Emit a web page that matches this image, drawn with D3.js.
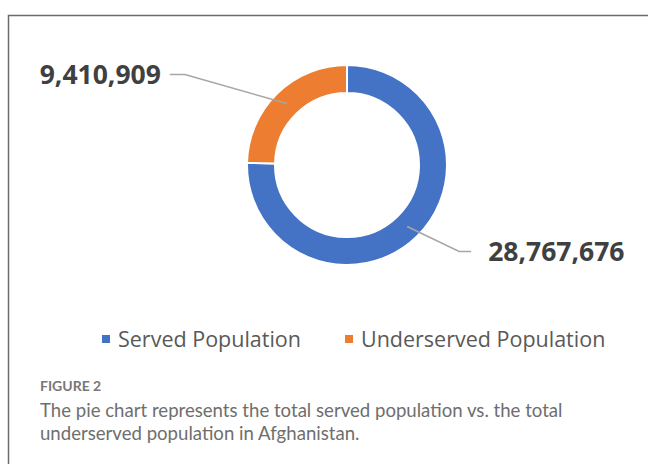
<!DOCTYPE html>
<html>
<head>
<meta charset="utf-8">
<script src="https://cdn.jsdelivr.net/npm/d3@7"></script>
<style>
  body { margin: 0; background: #fff; }
  svg { display: block; }
</style>
</head>
<body>
<script>
const w = 648;
const h = 464;

// data
const categories = ["Served Population", "Underserved Population"];
const values = [28767676, 9410909];
const colors = ["#4472c4", "#ed7d31"];

const cx = 347, cy = 165;
const outerR = 100, innerR = 72;

const svg = d3.select("body")
  .append("svg")
  .attr("width", w)
  .attr("height", h);

// frame (left and top rules)
svg.append("path")
  .attr("d", "M8.5," + h + "V15.5H" + w)
  .attr("fill", "none")
  .attr("stroke", "#6b6b6b")
  .attr("stroke-width", 1.5);

const pie = d3.pie().sort(null).value(d => d);
const arcs = pie(values);

const arc = d3.arc().innerRadius(innerR).outerRadius(outerR);
const midArc = d3.arc().innerRadius(86).outerRadius(86);

const g = svg.append("g").attr("transform", "translate(" + cx + "," + cy + ")");

g.selectAll("path.slice")
  .data(arcs)
  .enter()
  .append("path")
  .attr("class", "slice")
  .attr("d", arc)
  .attr("fill", (d, i) => colors[i])
  .attr("stroke", "#fff")
  .attr("stroke-width", 2);

// leader lines + labels
const fmt = d3.format(",");
arcs.forEach((d, i) => {
  const c = midArc.centroid(d);
  const right = c[0] > 0;
  const elbow = right ? [c[0] + 52, c[1] + 25] : [c[0] - 102, c[1] - 29];
  const end = right ? [elbow[0] + 12, elbow[1]] : [elbow[0] - 15, elbow[1]];
  g.append("polyline")
    .attr("points", [c, elbow, end].map(p => p.join(",")).join(" "))
    .attr("fill", "none")
    .attr("stroke", "#a6a6a6")
    .attr("stroke-width", 1.5);
  g.append("text")
    .attr("x", right ? end[0] + 17 : end[0] - 9)
    .attr("y", end[1])
    .attr("dy", "0.35em")
    .attr("text-anchor", right ? "start" : "end")
    .style("font-family", "'Open Sans', sans-serif")
    .style("font-weight", 700)
    .style("font-size", "26.5px")
    .style("fill", "#404040")
    .text(fmt(d.data));
});

// legend
const legendX = [102, 345];
const legend = svg.append("g")
  .selectAll("g")
  .data(categories)
  .enter()
  .append("g")
  .attr("transform", (d, i) => "translate(" + legendX[i] + ",339)");

legend.append("rect")
  .attr("x", 0)
  .attr("y", -4)
  .attr("width", 8)
  .attr("height", 8)
  .style("fill", (d, i) => colors[i]);

legend.append("text")
  .attr("x", 16)
  .attr("y", 0)
  .attr("dy", "0.35em")
  .style("font-family", "'Open Sans', sans-serif")
  .style("font-size", "21.5px")
  .style("fill", "#595959")
  .text(d => d);

// caption
svg.append("text")
  .attr("x", 40)
  .attr("y", 391)
  .style("font-family", "Lato, sans-serif")
  .style("font-size", "14px")
  .style("font-weight", 700)
  .style("fill", "#777")
  .text("FIGURE 2");

const captionLines = [
  "The pie chart represents the total served population vs. the total",
  "underserved population in Afghanistan."
];
svg.selectAll("text.cap")
  .data(captionLines)
  .enter()
  .append("text")
  .attr("class", "cap")
  .attr("x", 40)
  .attr("y", (d, i) => 417 + i * 23)
  .style("font-family", "Lato, sans-serif")
  .style("font-size", "18.6px")
  .style("fill", "#6e6e6e")
  .text(d => d);
</script>
</body>
</html>
